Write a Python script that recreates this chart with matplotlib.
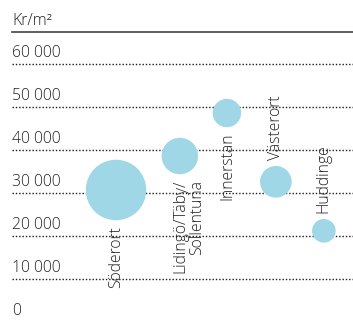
import matplotlib
matplotlib.use("Agg")
import matplotlib.pyplot as plt
import numpy as np

plt.rcParams['font.family'] = ['Open Sans', 'DejaVu Sans']

# Data
areas = ["Söderort", "Lidingö/Täby/\nSollentuna", "Innerstan", "Västerort", "Huddinge"]
x_pos = [1.0, 2.33, 3.31, 4.33, 5.33]
price = [30700, 38600, 48600, 32600, 21200]
bubble_size = [1900, 690, 420, 520, 290]
label_side = ["below", "below", "below", "above", "above"]
yticks = [0, 10000, 20000, 30000, 40000, 50000, 60000]
ytick_labels = ["0", "10 000", "20 000", "30 000", "40 000", "50 000", "60 000"]
unit_label = "Kr/m²"

W, H = 353, 320
fig = plt.figure(figsize=(W / 100, H / 100), dpi=100)
top_px = 32
ax = fig.add_axes([0, 0, 1, (H - top_px) / H])
ax.set_xlim(-1.417, 5.9375)
y_top = 67440
ax.set_ylim(465, y_top)
ax.axis('off')

text_color = '#222222'
fs = 11.3
fw = 'light'
left_frac = 12 / W

# top solid line
ax.axhline(y_top, xmin=left_frac, xmax=1, color='#444444', lw=1.2, clip_on=False)
ax.annotate(unit_label, xy=(left_frac, y_top), xycoords=('axes fraction', 'data'),
            xytext=(0, 2.5), textcoords='offset points', ha='left', va='bottom',
            fontsize=fs, fontweight=fw, color=text_color, annotation_clip=False)

for v, lab in zip(yticks, ytick_labels):
    if v > 0:
        ax.axhline(v, xmin=left_frac, xmax=1, color='#1a1a1a', lw=1.0,
                   linestyle=(0, (1, 1.4)), zorder=1)
    ax.annotate(lab, xy=(left_frac, v), xycoords=('axes fraction', 'data'),
                xytext=(0, 2.5), textcoords='offset points',
                ha='left', va='bottom', fontsize=fs, fontweight=fw, color=text_color)

ax.scatter(x_pos, price, s=bubble_size, color='#a0d7e7', edgecolors='none', zorder=3)

for x, y, s, name, side in zip(x_pos, price, bubble_size, areas, label_side):
    r = np.sqrt(s) / 2
    gap = 4
    multi = '\n' in name
    dx = -5.5 if multi else 0
    ha = 'left' if multi else 'center'
    if side == 'below':
        ax.annotate(name, xy=(x, y), xytext=(dx, -(r + gap)), textcoords='offset points',
                    rotation=90, ha=ha, va='top', multialignment='right',
                    fontsize=fs, fontweight=fw, color=text_color, linespacing=1.1, zorder=4)
    else:
        ax.annotate(name, xy=(x, y), xytext=(dx, r + gap), textcoords='offset points',
                    rotation=90, ha=ha, va='bottom', multialignment='left',
                    fontsize=fs, fontweight=fw, color=text_color, zorder=4)

fig.savefig("out.png", dpi=100)
